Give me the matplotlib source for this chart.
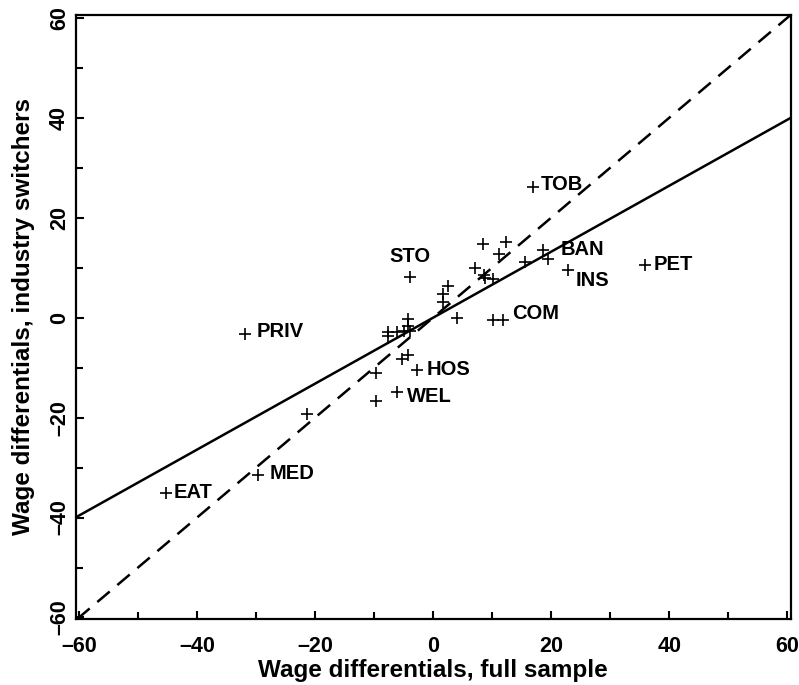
import matplotlib
matplotlib.use("Agg")
import matplotlib.pyplot as plt
import numpy as np
from matplotlib.ticker import MultipleLocator

# Data: wage differentials (full sample) vs industry switchers
x_full = [16.9, -3.9, 18.7, 22.8, 11.8, 35.9, -31.9, -2.7, -6.1, -29.6, -45.3,
          19.4, 10.2, 8.5, 12.4, 11.1, 7.1, 8.6, 8.8, 10.2, 15.6,
          2.6, 1.7, 1.7, 4.1, -4.2, -4.2, -7.6, -7.6, -6.2, -5.0, -3.9,
          -5.2, -4.2, -9.7, -9.7, -21.4]
y_switch = [26.1, 8.1, 13.6, 9.6, -0.4, 10.6, -3.3, -10.4, -14.9, -31.5, -35.1,
            11.7, -0.4, 14.8, 15.1, 12.7, 9.9, 8.6, 7.9, 7.7, 11.1,
            6.3, 4.8, 3.1, -0.1, -0.3, -1.7, -2.9, -3.7, -2.9, -2.7, -2.7,
            -8.2, -7.5, -11.1, -16.7, -19.3]
labels = ["TOB", "STO", "BAN", "INS", "COM", "PET", "PRIV", "HOS", "WEL", "MED", "EAT"]
# label offsets in pixels (dx, dy) relative to the marker
label_offsets = [(8, 3), (0, 21), (17, 0), (8, -11), (9, 6), (9, 0),
                 (12, 3), (9, 0), (10, -4), (11, 2), (8, 1)]
label_ha = ["left", "center", "left", "left", "left", "left",
            "left", "left", "left", "left", "left"]

fit_slope = 0.66
fit_intercept = 0.0

x_ticks = [-60, -40, -20, 0, 20, 40, 60]
y_ticks = [-60, -40, -20, 0, 20, 40, 60]
xlim = (-60.6, 60.6)
ylim = (-60.3, 60.6)

plt.rcParams['font.family'] = ['Liberation Sans', 'DejaVu Sans']

fig = plt.figure(figsize=(7.99, 6.85), dpi=100)
ax = fig.add_axes([0.0945, 0.0964, 0.8951, 0.8818])

ax.set_xlim(*xlim)
ax.set_ylim(*ylim)

# 45-degree dashed line
diag = np.array([max(xlim[0], ylim[0]), min(xlim[1], ylim[1])])
ax.plot(diag, diag, color='black', lw=1.8, dashes=(6.5, 4))

# fitted line
xf = np.array(xlim)
ax.plot(xf, fit_intercept + fit_slope * xf, color='black', lw=1.8)

ax.plot(x_full, y_switch, linestyle='none', marker='+', color='black',
        markersize=8, markeredgewidth=1.2)

for i, lab in enumerate(labels):
    dx, dy = label_offsets[i]
    ax.annotate(lab, (x_full[i], y_switch[i]), xytext=(dx, dy),
                textcoords='offset pixels', ha=label_ha[i], va='center',
                fontsize=14.5, fontweight='bold')

ax.set_xticks(x_ticks)
ax.set_yticks(y_ticks)
ax.set_xticklabels([str(v).replace('-', '\u2013') for v in x_ticks])
ax.set_yticklabels([str(v).replace('-', '\u2013') for v in y_ticks],
                   rotation=90, va='center')
ax.xaxis.set_minor_locator(MultipleLocator(10))
ax.yaxis.set_minor_locator(MultipleLocator(10))
ax.tick_params(which='both', direction='in', top=False, right=False, width=1.5)
ax.tick_params(which='major', length=6)
ax.tick_params(which='minor', length=5)
ax.tick_params(axis='x', which='major', pad=12, labelsize=15.5)
ax.tick_params(axis='y', which='major', pad=4, labelsize=15.5)
for lab in ax.get_xticklabels() + ax.get_yticklabels():
    lab.set_fontweight('bold')

for s in ax.spines.values():
    s.set_linewidth(1.6)

ax.set_xlabel('Wage differentials, full sample', fontsize=17.5, fontweight='bold', labelpad=2)
ax.set_ylabel('Wage differentials, industry switchers', fontsize=17.5, fontweight='bold', labelpad=10)

fig.savefig('out.png', dpi=100)
